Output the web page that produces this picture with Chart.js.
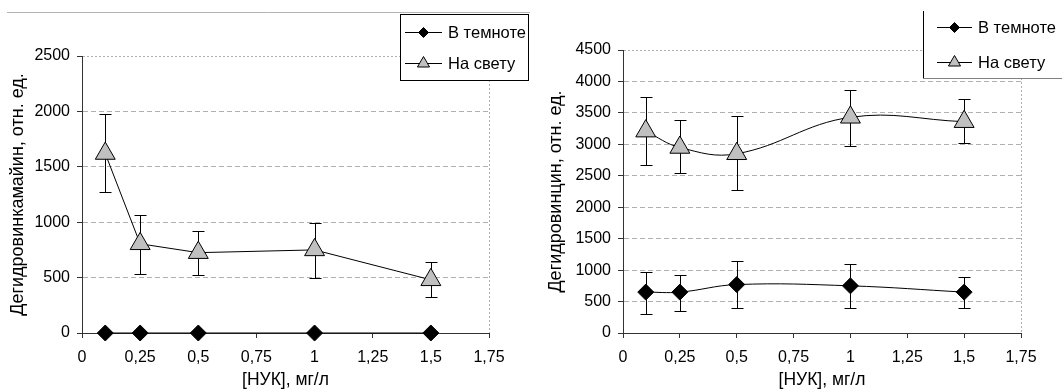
<!DOCTYPE html>
<html>
<head>
<meta charset="utf-8">
<script src="https://cdn.jsdelivr.net/npm/chart.js@4/dist/chart.umd.min.js"></script>
<style>
  body { margin: 0; background: #fff; }
  .panel { position: absolute; top: 0; width: 531px; height: 391px; }
</style>
</head>
<body>
<div class="panel" style="left:0"><canvas id="leftChart" width="531" height="391"></canvas></div>
<div class="panel" style="left:531px"><canvas id="rightChart" width="531" height="391"></canvas></div>
<script>
// concentrations on the x axis
const naaDoses = [0.1, 0.25, 0.5, 1, 1.5];
const xTickLabels = ['0', '0,25', '0,5', '0,75', '1', '1,25', '1,5', '1,75'];
const seriesNames = ['В темноте', 'На свету'];

// left panel
const leftDark = [0, 0, 0, 0, 0];
const leftLight = [1620, 805, 725, 750, 480];
const leftLightLow = [1270, 535, 520, 500, 322];
const leftLightHigh = [1975, 1065, 925, 995, 642];

// right panel
const rightDark = [650, 650, 770, 750, 650];
const rightDarkLow = [300, 345, 390, 390, 390];
const rightDarkHigh = [970, 930, 1140, 1095, 885];
const rightLight = [3210, 2950, 2850, 3430, 3360];
const rightLightLow = [2675, 2545, 2275, 2980, 3025];
const rightLightHigh = [3755, 3385, 3445, 3865, 3715];

const FONT = 'Liberation Sans';
Chart.defaults.font.family = FONT;
Chart.defaults.font.size = 16;
Chart.defaults.color = '#000';

const toPoints = arr => naaDoses.map((x, i) => ({ x: x, y: arr[i] }));

const errorBars = {
  id: 'errorBars',
  beforeDatasetsDraw(chart) {
    const { ctx, scales: { x, y } } = chart;
    ctx.save();
    ctx.strokeStyle = '#000';
    ctx.lineWidth = 1;
    chart.data.datasets.forEach(ds => {
      if (!ds.errLow) return;
      ds.errLow.forEach((lo, i) => {
        const px = Math.round(x.getPixelForValue(naaDoses[i])) + 0.5;
        const top = Math.round(y.getPixelForValue(ds.errHigh[i])) + 0.5;
        const bot = Math.round(y.getPixelForValue(lo)) + 0.5;
        ctx.beginPath();
        ctx.moveTo(px, top); ctx.lineTo(px, bot);
        ctx.moveTo(px - 6, top); ctx.lineTo(px + 6, top);
        ctx.moveTo(px - 6, bot); ctx.lineTo(px + 6, bot);
        ctx.stroke();
      });
    });
    ctx.restore();
  }
};

const boxLegend = {
  id: 'boxLegend',
  afterDraw(chart, args, opts) {
    const { ctx } = chart;
    const [bx, by, bw, bh] = opts.box;
    ctx.save();
    if (opts.rule) {
      ctx.strokeStyle = '#b4b4b4';
      ctx.lineWidth = 1;
      ctx.beginPath();
      ctx.moveTo(opts.rule[0], opts.rule[2] + 0.5);
      ctx.lineTo(opts.rule[1], opts.rule[2] + 0.5);
      ctx.stroke();
    }
    ctx.fillStyle = '#fff';
    ctx.fillRect(bx, by, bw, bh);
    ctx.lineWidth = 1;
    if (opts.fullFrame) {
      ctx.strokeStyle = '#000';
      ctx.strokeRect(bx + 0.5, by + 0.5, bw, bh);
    } else {
      ctx.strokeStyle = '#000';
      ctx.beginPath();
      ctx.moveTo(bx + 0.5, by);
      ctx.lineTo(bx + 0.5, by + bh + 0.5);
      ctx.stroke();
      ctx.strokeStyle = '#808080';
      ctx.beginPath();
      ctx.moveTo(bx, by + bh + 0.5);
      ctx.lineTo(bx + bw, by + bh + 0.5);
      ctx.stroke();
    }
    chart.data.datasets.forEach((ds, i) => {
      const y = opts.rows[i];
      ctx.strokeStyle = '#000';
      ctx.beginPath();
      ctx.moveTo(opts.lineX[0], y + 0.5);
      ctx.lineTo(opts.lineX[1], y + 0.5);
      ctx.stroke();
      ctx.fillStyle = ds.pointBackgroundColor;
      Chart.helpers.drawPoint(ctx, {
        pointStyle: ds.pointStyle,
        radius: ds.pointStyle === 'triangle' ? 7 : 5,
        rotation: 0,
        borderWidth: 1
      }, (opts.lineX[0] + opts.lineX[1]) / 2, y + 0.5);
      ctx.fillStyle = '#000';
      ctx.font = '16.5px "' + FONT + '"';
      ctx.textBaseline = 'middle';
      ctx.textAlign = 'left';
      ctx.fillText(ds.label, opts.textX, y + 1);
    });
    ctx.restore();
  }
};

function makeDatasets(dark, light, darkLow, darkHigh, lightLow, lightHigh, tension) {
  return [
    {
      label: seriesNames[0],
      data: toPoints(dark),
      errLow: darkLow,
      errHigh: darkHigh,
      borderColor: '#000',
      borderWidth: 1,
      tension: tension,
      pointStyle: 'rectRot',
      pointRadius: 8,
      pointBackgroundColor: '#000',
      pointBorderColor: '#000',
      pointBorderWidth: 1,
      clip: false
    },
    {
      label: seriesNames[1],
      data: toPoints(light),
      errLow: lightLow,
      errHigh: lightHigh,
      borderColor: '#000',
      borderWidth: 1,
      tension: tension,
      pointStyle: 'triangle',
      pointRadius: 11.5,
      pointBackgroundColor: '#c0c0c0',
      pointBorderColor: '#000',
      pointBorderWidth: 1,
      clip: false
    }
  ];
}

function makeOptions(p) {
  return {
    responsive: false,
    animation: false,
    events: [],
    layout: { padding: { top: p.top, right: p.right, left: 0, bottom: 0 } },
    plugins: {
      legend: { display: false },
      tooltip: { enabled: false },
      boxLegend: p.legend
    },
    scales: {
      x: {
        type: 'linear',
        min: 0,
        max: 1.75,
        afterFit: s => { s.height = 58; },
        ticks: {
          stepSize: 0.25,
          padding: 10,
          callback: (v, i) => xTickLabels[i]
        },
        grid: {
          color: c => (c.tick && Math.abs(c.tick.value - 1.75) < 1e-6) ? '#b0b0b0' : 'rgba(0,0,0,0)',
          tickColor: '#333',
          tickLength: 5
        },
        border: { color: '#333', width: 1, dash: c => c.tick ? [2, 2] : [] },
        title: { display: true, text: '[НУК], мг/л', font: { size: 17.5 }, padding: 0 }
      },
      y: {
        min: 0,
        max: p.yMax,
        afterFit: s => { s.width = p.left; },
        ticks: {
          stepSize: 500,
          padding: 7,
          callback: v => String(v)
        },
        grid: {
          color: c => (c.tick && c.tick.value === 0) ? 'rgba(0,0,0,0)' : '#b0b0b0',
          tickColor: '#333',
          tickLength: 5
        },
        border: {
          color: '#333',
          width: 1,
          dash: c => !c.tick ? [] : (c.tick.value === p.yMax ? [2, 2] : [5, 3])
        },
        title: { display: true, text: p.yTitle, font: { size: 18 }, padding: { top: p.titlePad, bottom: 0 } }
      }
    }
  };
}

new Chart(document.getElementById('leftChart'), {
  type: 'line',
  data: { datasets: makeDatasets(leftDark, leftLight, null, null, leftLightLow, leftLightHigh, 0) },
  options: makeOptions({
    top: 56, right: 42, left: 82, yMax: 2500, titlePad: 7,
    yTitle: 'Дегидровинкамайин, отн. ед.',
    legend: { box: [400, 14, 128, 66], fullFrame: true, rows: [32, 63], lineX: [405, 442], textX: 448, rule: [7, 530, 12] }
  }),
  plugins: [errorBars, boxLegend]
});

new Chart(document.getElementById('rightChart'), {
  type: 'line',
  data: { datasets: makeDatasets(rightDark, rightLight, rightDarkLow, rightDarkHigh, rightLightLow, rightLightHigh, 0.4) },
  options: makeOptions({
    top: 50, right: 41, left: 92, yMax: 4500, titlePad: 14,
    yTitle: 'Дегидровинцин, отн. ед.',
    legend: { box: [392, 11, 145, 67], fullFrame: false, rows: [27, 62], lineX: [406, 441], textX: 447 }
  }),
  plugins: [errorBars, boxLegend]
});
</script>
</body>
</html>
